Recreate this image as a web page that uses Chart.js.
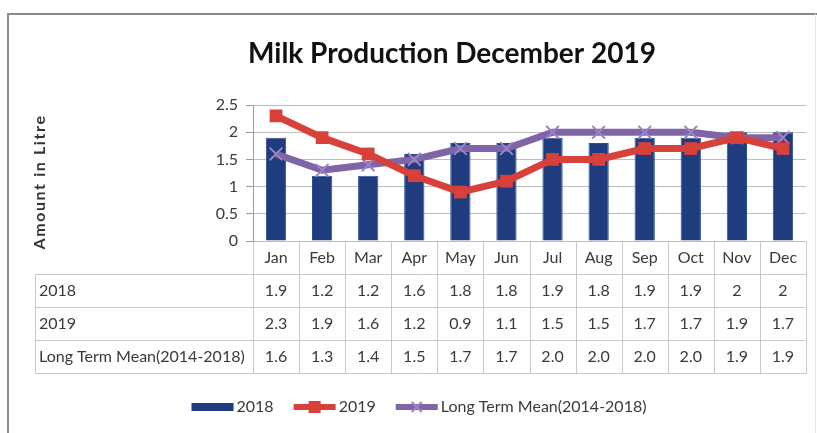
<!DOCTYPE html>
<html>
<head>
<meta charset="utf-8">
<script src="https://cdn.jsdelivr.net/npm/chart.js@4.4.1/dist/chart.umd.min.js"></script>
<style>
  html, body { margin: 0; padding: 0; background: #ffffff; }
  #wrap { width: 817px; height: 433px; }
</style>
</head>
<body>
<div id="wrap"><canvas id="c" width="817" height="433"></canvas></div>
<script>
// Monthly milk production, litres
const months = ['Jan', 'Feb', 'Mar', 'Apr', 'May', 'Jun', 'Jul', 'Aug', 'Sep', 'Oct', 'Nov', 'Dec'];
const prod2018 = [1.9, 1.2, 1.2, 1.6, 1.8, 1.8, 1.9, 1.8, 1.9, 1.9, 2, 2];
const prod2019 = [2.3, 1.9, 1.6, 1.2, 0.9, 1.1, 1.5, 1.5, 1.7, 1.7, 1.9, 1.7];
const longTermMean = [1.6, 1.3, 1.4, 1.5, 1.7, 1.7, 2.0, 2.0, 2.0, 2.0, 1.9, 1.9];
const seriesNames = ['2018', '2019', 'Long Term Mean(2014-2018)'];
const yTicks = [0, 0.5, 1, 1.5, 2, 2.5];
const chartTitle = 'Milk Production December 2019';
const yTitle = 'Amount in Litre';

const FONT = 'Lato, "Open Sans", sans-serif';
const TEXT = '#3a3a3a';
const LINE = '#c9c9c9';
const NAVY = '#1f3d7e';
const RED = '#d8413a';
const PURPLE = '#8064a8';

// value formatting per table row
const fmtPlain = v => String(v);
const fmtFixed = v => v.toFixed(1);
const tableRows = [
  { name: seriesNames[0], values: prod2018, fmt: fmtPlain },
  { name: seriesNames[1], values: prod2019, fmt: fmtPlain },
  { name: seriesNames[2], values: longTermMean, fmt: fmtFixed }
];

const HEADER_H = 33;
const ROW_H = 33;
const LABEL_LEFT = 35;

const decor = {
  id: 'decor',
  beforeDraw(chart) {
    const ctx = chart.ctx;
    ctx.save();
    ctx.fillStyle = '#ffffff';
    ctx.fillRect(0, 0, chart.width, chart.height);
    // outer frame
    ctx.strokeStyle = '#8c8c8c';
    ctx.lineWidth = 2;
    ctx.beginPath();
    ctx.moveTo(8, chart.height);
    ctx.lineTo(8, 14);
    ctx.lineTo(chart.width, 14);
    ctx.stroke();
    ctx.strokeStyle = '#e6e6e6';
    ctx.lineWidth = 1;
    ctx.beginPath();
    ctx.moveTo(815.5, 14);
    ctx.lineTo(815.5, chart.height);
    ctx.stroke();
    ctx.restore();
  },
  afterDraw(chart) {
    const ctx = chart.ctx;
    const area = chart.chartArea;
    const x = chart.scales.x;
    const n = months.length;
    const step = x.getPixelForValue(1) - x.getPixelForValue(0);
    const edge = i => Math.round(x.getPixelForValue(i) - step / 2) + 0.5;
    const right = Math.round(x.getPixelForValue(n - 1) + step / 2) + 0.5;

    ctx.save();
    // title
    ctx.fillStyle = '#111111';
    ctx.font = 'bold 28px ' + FONT;
    ctx.textAlign = 'center';
    ctx.textBaseline = 'middle';
    ctx.fillText(chartTitle, 452, 54);

    // axis title
    ctx.save();
    ctx.translate(40, 182);
    ctx.rotate(-Math.PI / 2);
    ctx.font = 'bold 16px ' + FONT;
    ctx.letterSpacing = '1.6px';
    ctx.fillStyle = '#333333';
    ctx.fillText(yTitle, 0, 0);
    ctx.restore();

    // data table
    const top = Math.round(area.bottom) + 0.5;
    const rowY = [top, top + HEADER_H];
    for (let r = 0; r < tableRows.length; r++) rowY.push(rowY[rowY.length - 1] + ROW_H);
    const bottom = rowY[rowY.length - 1];

    ctx.strokeStyle = LINE;
    ctx.lineWidth = 1;
    ctx.beginPath();
    // vertical column edges
    for (let i = 0; i < n; i++) {
      ctx.moveTo(edge(i), top);
      ctx.lineTo(edge(i), bottom);
    }
    ctx.moveTo(right, top);
    ctx.lineTo(right, bottom);
    ctx.moveTo(LABEL_LEFT + 0.5, rowY[1]);
    ctx.lineTo(LABEL_LEFT + 0.5, bottom);
    // horizontal row lines
    for (let r = 1; r < rowY.length; r++) {
      ctx.moveTo(LABEL_LEFT, rowY[r]);
      ctx.lineTo(right, rowY[r]);
    }
    ctx.stroke();

    ctx.font = '16px ' + FONT;
    ctx.fillStyle = TEXT;
    ctx.textBaseline = 'middle';
    ctx.textAlign = 'center';
    months.forEach((m, i) => ctx.fillText(m, x.getPixelForValue(i), top + HEADER_H / 2));
    tableRows.forEach((row, r) => {
      const cy = rowY[r + 1] + ROW_H / 2;
      ctx.textAlign = 'left';
      ctx.fillText(row.name, LABEL_LEFT + 4, cy);
      ctx.textAlign = 'center';
      row.values.forEach((v, i) => ctx.fillText(row.fmt(v), x.getPixelForValue(i), cy));
    });

    // legend
    const ly = 407;
    const items = [
      { label: seriesNames[0], kind: 'bar', color: NAVY },
      { label: seriesNames[1], kind: 'square', color: RED },
      { label: seriesNames[2], kind: 'cross', color: PURPLE }
    ];
    const sw = 42, gap = 3, sep = 20;
    ctx.font = '16px ' + FONT;
    const widths = items.map(it => sw + gap + ctx.measureText(it.label).width);
    const total = widths.reduce((a, b) => a + b, 0) + sep * (items.length - 1);
    let lx = 419 - total / 2;
    items.forEach((it, k) => {
      ctx.fillStyle = it.color;
      ctx.strokeStyle = it.color;
      if (it.kind === 'bar') {
        ctx.fillRect(lx, ly - 4, sw, 8);
      } else {
        ctx.lineWidth = 6;
        ctx.beginPath();
        ctx.moveTo(lx, ly);
        ctx.lineTo(lx + sw, ly);
        ctx.stroke();
        if (it.kind === 'square') {
          ctx.fillRect(lx + sw / 2 - 6, ly - 6, 12, 12);
        } else {
          ctx.lineWidth = 2;
          ctx.strokeStyle = '#9a84c4';
          ctx.beginPath();
          ctx.moveTo(lx + sw / 2 - 5, ly - 5); ctx.lineTo(lx + sw / 2 + 5, ly + 5);
          ctx.moveTo(lx + sw / 2 + 5, ly - 5); ctx.lineTo(lx + sw / 2 - 5, ly + 5);
          ctx.stroke();
        }
      }
      ctx.fillStyle = TEXT;
      ctx.textAlign = 'left';
      ctx.fillText(it.label, lx + sw + gap, ly);
      lx += widths[k] + sep;
    });
    ctx.restore();
  }
};

new Chart(document.getElementById('c'), {
  type: 'bar',
  data: {
    labels: months,
    datasets: [
      {
        type: 'bar',
        label: seriesNames[0],
        data: prod2018,
        backgroundColor: NAVY,
        borderColor: '#2c4f95',
        borderWidth: 1,
        barPercentage: 0.44,
        categoryPercentage: 1,
        order: 3
      },
      {
        type: 'line',
        label: seriesNames[1],
        data: prod2019,
        borderColor: RED,
        backgroundColor: RED,
        borderWidth: 7,
        tension: 0,
        pointStyle: 'rect',
        pointRadius: 9,
        pointBorderWidth: 0,
        order: 1
      },
      {
        type: 'line',
        label: seriesNames[2],
        data: longTermMean,
        borderColor: PURPLE,
        backgroundColor: PURPLE,
        borderWidth: 7,
        tension: 0,
        pointStyle: 'crossRot',
        pointRadius: 9,
        pointBorderWidth: 2,
        pointBorderColor: '#9a84c4',
        order: 2
      }
    ]
  },
  options: {
    responsive: false,
    animation: false,
    devicePixelRatio: 1,
    layout: { padding: { left: 8, right: 10, top: 105, bottom: 60 } },
    plugins: {
      legend: { display: false },
      title: { display: false },
      tooltip: { enabled: false }
    },
    scales: {
      x: {
        offset: true,
        grid: { display: false },
        border: { display: false },
        ticks: { display: false },
        afterFit(scale) { scale.height = HEADER_H + ROW_H * 3; }
      },
      y: {
        min: 0,
        max: 2.5,
        afterBuildTicks(scale) { scale.ticks = yTicks.map(v => ({ value: v })); },
        afterFit(scale) { scale.width = 245; },
        grid: { color: '#bdbdbd', tickLength: 7, drawTicks: true, tickColor: '#9a9a9a' },
        border: { display: true, color: '#9a9a9a' },
        ticks: {
          padding: 8,
          color: TEXT,
          font: { family: FONT, size: 16 },
          callback: v => String(v)
        }
      }
    }
  },
  plugins: [decor]
});
</script>
</body>
</html>
